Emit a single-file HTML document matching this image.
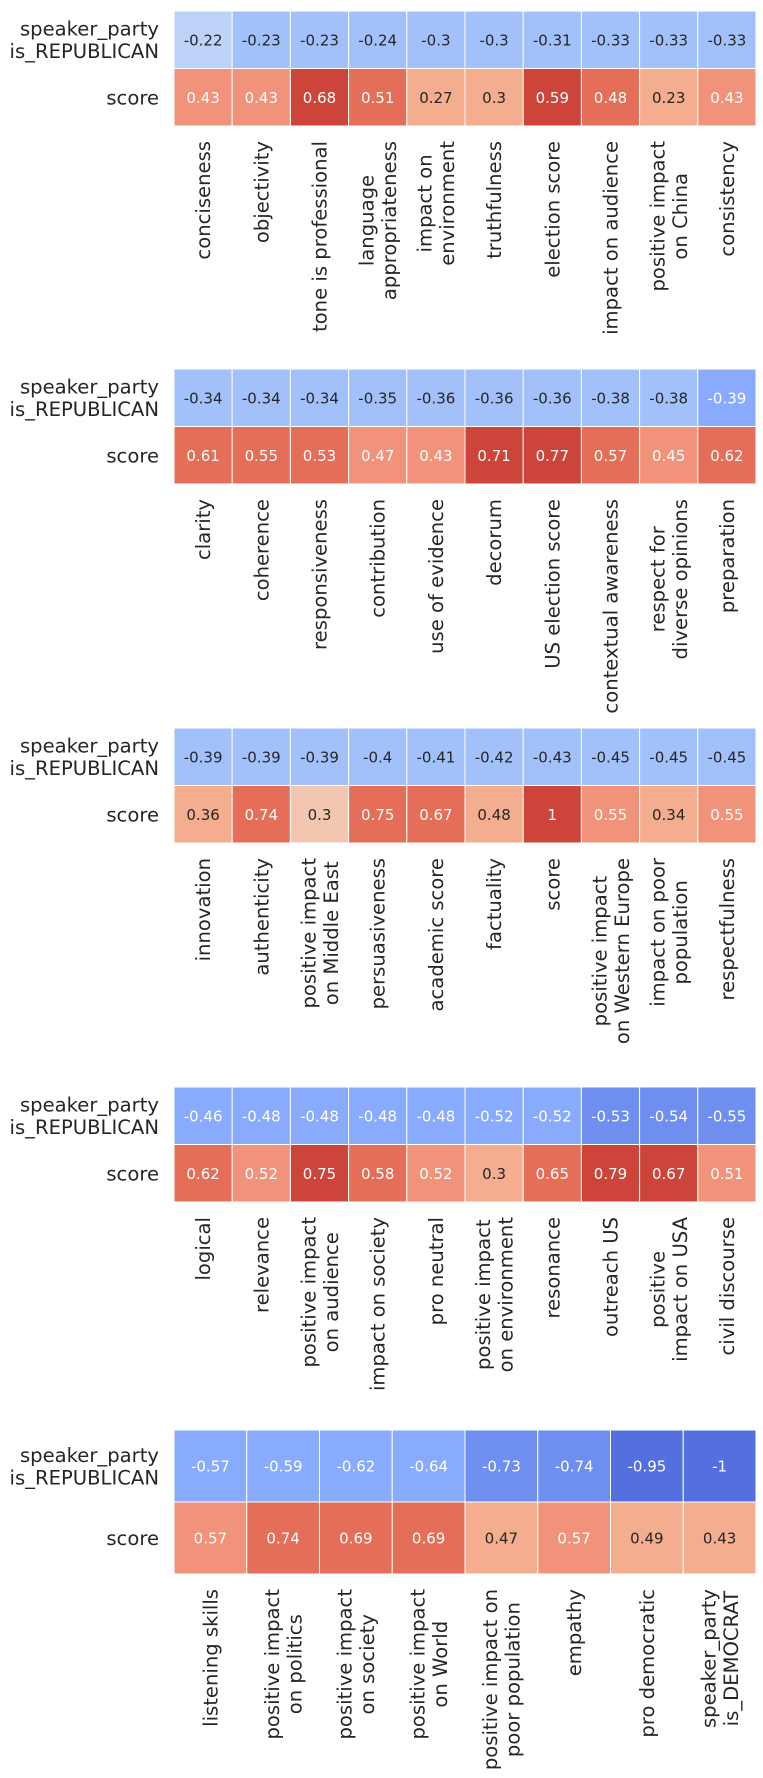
<!DOCTYPE html>
<html><head><meta charset="utf-8">
<style>
html,body{margin:0;padding:0;background:#fff;width:763px;height:1778px;overflow:hidden}
svg{display:block;font-family:"DejaVu Sans","Liberation Sans",sans-serif}
</style></head>
<body>
<svg id="chart" width="763" height="1778" viewBox="0 0 763 1778" xmlns="http://www.w3.org/2000/svg"></svg>
<script>
// ---- data ----
const rowLabels = [["speaker_party","is_REPUBLICAN"],["score"]];
const p1Cats = ["conciseness","objectivity","tone is professional","language\nappropriateness","impact on\nenvironment","truthfulness","election score","impact on audience","positive impact\non China","consistency"];
const p1Rep = [-0.22,-0.23,-0.23,-0.24,-0.3,-0.3,-0.31,-0.33,-0.33,-0.33];
const p1Score = [0.43,0.43,0.68,0.51,0.27,0.3,0.59,0.48,0.23,0.43];
const p2Cats = ["clarity","coherence","responsiveness","contribution","use of evidence","decorum","US election score","contextual awareness","respect for\ndiverse opinions","preparation"];
const p2Rep = [-0.34,-0.34,-0.34,-0.35,-0.36,-0.36,-0.36,-0.38,-0.38,-0.39];
const p2Score = [0.61,0.55,0.53,0.47,0.43,0.71,0.77,0.57,0.45,0.62];
const p3Cats = ["innovation","authenticity","positive impact\non Middle East","persuasiveness","academic score","factuality","score","positive impact\non Western Europe","impact on poor\npopulation","respectfulness"];
const p3Rep = [-0.39,-0.39,-0.39,-0.4,-0.41,-0.42,-0.43,-0.45,-0.45,-0.45];
const p3Score = [0.36,0.74,0.3,0.75,0.67,0.48,1,0.55,0.34,0.55];
const p4Cats = ["logical","relevance","positive impact\non audience","impact on society","pro neutral","positive impact\non environment","resonance","outreach US","positive\nimpact on USA","civil discourse"];
const p4Rep = [-0.46,-0.48,-0.48,-0.48,-0.48,-0.52,-0.52,-0.53,-0.54,-0.55];
const p4Score = [0.62,0.52,0.75,0.58,0.52,0.3,0.65,0.79,0.67,0.51];
const p5Cats = ["listening skills","positive impact\non politics","positive impact\non society","positive impact\non World","positive impact on\npoor population","empathy","pro democratic","speaker_party\nis_DEMOCRAT"];
const p5Rep = [-0.57,-0.59,-0.62,-0.64,-0.73,-0.74,-0.95,-1];
const p5Score = [0.57,0.74,0.69,0.69,0.47,0.57,0.49,0.43];

// ---- style ----
const palette = ["#5470de","#6e8ef0","#88abfd","#a2c1fb","#bcd2f7","#d3dbe7","#e8d6cc","#f3c6b1","#f5ad8f","#f0937a","#e46e57","#cd453a"];
const darkText = [false,false,false,true,true,true,true,true,true,false,false,false];
const panels = [
  {cats:p1Cats, rep:p1Rep, score:p1Score, top:11, cw:58.2, ch:57.5},
  {cats:p2Cats, rep:p2Rep, score:p2Score, top:369, cw:58.2, ch:57.5},
  {cats:p3Cats, rep:p3Rep, score:p3Score, top:728, cw:58.2, ch:57.5},
  {cats:p4Cats, rep:p4Rep, score:p4Score, top:1087, cw:58.2, ch:57.5},
  {cats:p5Cats, rep:p5Rep, score:p5Score, top:1430, cw:72.75, ch:72}
];
const LEFT = 174;
const NS = "http://www.w3.org/2000/svg";
const svg = document.getElementById("chart");
function mk(tag, attrs, parent){const e=document.createElementNS(NS,tag);for(const k in attrs)e.setAttribute(k,attrs[k]);(parent||svg).appendChild(e);return e;}

panels.forEach((p, pi) => {
  const g = mk("g", {});
  
  
  const vmax = Math.max(...p.rep.map(Math.abs), ...p.score.map(Math.abs));
  const xScale = i => LEFT + i * p.cw;
  const yScale = r => p.top + r * p.ch;
  const binOf = v => Math.max(0, Math.min(11, Math.floor((v / vmax + 1) / 2 * 12 - 1e-9)));
  [p.rep, p.score].forEach((row, r) => {
    row.forEach((v, i) => {
      const b = binOf(v);
      const rect = mk("rect", {x:xScale(i), y:yScale(r), width:p.cw, height:p.ch, fill:palette[b], stroke:"#fff", "stroke-width":1}, g);
      
      
      const t = mk("text", {x:xScale(i)+p.cw/2, y:yScale(r)+p.ch/2+5.5, "text-anchor":"middle", "font-size":"15", fill: darkText[b] ? "#262626" : "#ffffff"}, g);
      t.textContent = String(v);
      
      
    });
    const lines = rowLabels[r];
    const cy = yScale(r) + p.ch/2;
    const lt = mk("text", {x:159, y:0, "text-anchor":"end", "font-size":"19.6", fill:"#262626"}, g);
    
    
    lines.forEach((ln, li) => {
      const ts = mk("tspan", {x:159, y: cy + (li - (lines.length-1)/2)*22.5 + 7}, lt);
      ts.textContent = ln;
    });
  });
  const labTop = yScale(2) + 15;
  p.cats.forEach((c, i) => {
    const lines = c.split("\n");
    const cx = xScale(i) + p.cw/2;
    const lt = mk("text", {transform:`translate(${cx},${labTop}) rotate(-90)`, "text-anchor":"middle", "font-size":"19.6", fill:"#262626"}, g);
    
    
    const spans = lines.map((ln, li) => {
      const ts = mk("tspan", {x:0, y:(li - (lines.length-1)/2)*22.5 + 7}, lt);
      ts.textContent = ln;
      return ts;
    });
    let w = 0;
    spans.forEach(s => { w = Math.max(w, s.getComputedTextLength()); });
    spans.forEach(s => s.setAttribute("x", -w/2));
  });
});
</script>
</body></html>
